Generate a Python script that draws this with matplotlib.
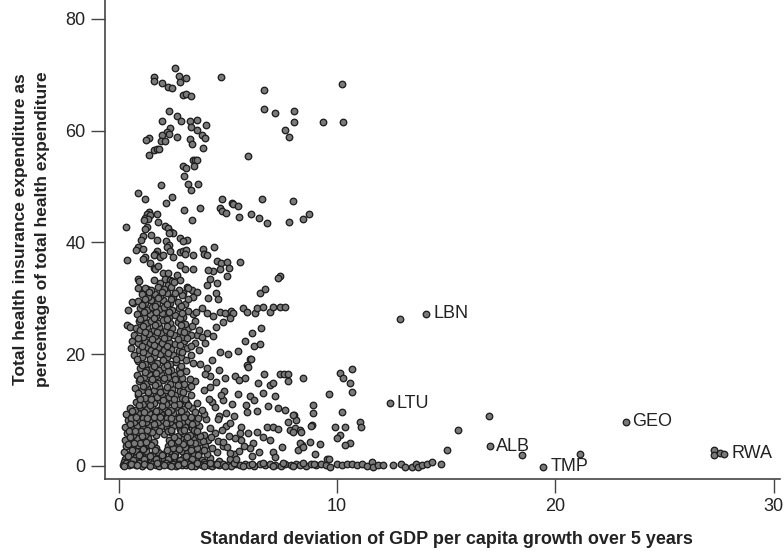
import numpy as np
import matplotlib
matplotlib.use("Agg")
import matplotlib.pyplot as plt

plt.rcParams['font.family'] = ['Liberation Sans', 'DejaVu Sans']

# points with high insurance share (y > 44)
upper_pts = [(2.59, 71.2), (1.6, 69.6), (1.6, 68.9), (2.0, 68.5), (2.25, 67.9), (2.45, 67.7),
             (2.76, 69.8), (2.82, 68.8), (3.08, 69.4), (4.7, 69.7), (2.97, 66.4), (3.09, 66.5),
             (3.33, 66.3), (6.68, 67.3), (10.22, 68.4), (2.3, 63.6), (2.68, 62.7), (1.99, 61.8),
             (2.86, 61.7), (3.26, 61.7), (3.6, 62.0), (4.0, 61.1), (3.31, 60.6), (3.6, 60.1),
             (2.36, 60.4), (2.2, 59.8), (2.33, 59.4), (1.99, 59.2), (2.67, 58.9), (3.26, 58.6),
             (3.81, 59.2), (3.96, 58.7), (1.37, 58.7), (1.26, 58.3), (1.93, 58.1), (2.13, 58.1),
             (3.38, 57.6), (3.88, 56.9), (1.6, 56.5), (1.75, 56.7), (1.84, 56.7), (1.38, 55.6),
             (6.68, 63.9), (7.17, 63.2), (8.03, 63.5), (8.03, 61.6), (9.38, 61.6), (10.27, 61.6),
             (7.6, 60.2), (7.8, 58.8), (5.93, 55.4), (3.42, 54.8), (3.5, 54.8), (3.57, 54.8),
             (2.97, 53.7), (3.09, 53.3), (3.44, 53.6), (2.99, 51.8), (1.93, 50.3), (3.18, 50.5),
             (3.32, 49.4), (3.66, 50.4), (0.91, 48.9), (1.23, 47.8), (2.45, 48.2), (4.75, 47.8),
             (6.59, 47.8), (7.98, 47.4), (2.19, 47.1), (3.01, 45.8), (3.73, 46.1), (5.19, 47.0),
             (5.26, 46.9), (5.47, 46.5), (4.65, 46.1), (4.73, 45.7), (4.92, 45.3), (6.05, 45.0),
             (6.45, 44.4), (5.52, 44.5), (8.44, 44.2), (8.73, 45.0), (1.38, 45.4), (1.29, 45.0),
             (1.44, 44.9), (1.75, 45.0)]

# middle band (about 19 to 44)
mid_pts = [(1.23, 44.3), (1.34, 44.2), (1.15, 44.1), (1.82, 43.6), (3.38, 44.0), (6.79, 43.5),
           (7.82, 43.7), (0.34, 42.7), (2.14, 43.0), (2.28, 42.5), (2.39, 41.9), (2.48, 41.6),
           (2.33, 41.6), (1.29, 42.8), (1.2, 42.4), (1.47, 41.4), (1.14, 41.1), (1.04, 40.4),
           (1.75, 40.4), (2.8, 40.7), (3.15, 40.4), (2.97, 40.2), (2.18, 40.2), (2.33, 39.5),
           (2.2, 39.1), (2.36, 38.5), (0.88, 39.2), (0.8, 38.6), (1.14, 38.9), (1.75, 38.5),
           (1.67, 38.0), (1.63, 37.8), (1.9, 37.3), (2.05, 37.7), (1.23, 37.3), (1.14, 37.0),
           (2.51, 37.3), (2.79, 38.2), (2.97, 38.5), (3.09, 38.6), (3.06, 37.9), (3.43, 37.7),
           (3.86, 38.9), (3.93, 38.0), (4.07, 37.7), (4.36, 39.2), (0.39, 36.9), (1.44, 36.4),
           (1.6, 35.5), (1.67, 35.2), (1.82, 35.8), (2.82, 36.0), (3.05, 35.2), (3.4, 35.2),
           (4.53, 36.7), (4.7, 36.4), (4.96, 36.5), (5.08, 35.5), (4.65, 35.2), (4.34, 34.9),
           (4.11, 35.1), (5.58, 36.5), (4.96, 33.9), (4.19, 33.5), (4.5, 32.8), (4.04, 32.4),
           (7.4, 33.9), (7.32, 33.7), (0.91, 33.4), (0.94, 33.0), (2.05, 34.5), (2.28, 34.6),
           (2.67, 34.2), (2.13, 33.4), (2.36, 33.3), (2.82, 33.3), (1.91, 32.7), (2.28, 32.4),
           (2.44, 33.0), (6.48, 30.9), (6.71, 31.7), (3.12, 32.1), (3.35, 31.5), (3.58, 31.2),
           (2.97, 30.9), (4.47, 31.0), (4.57, 29.8), (4.11, 30.0), (0.91, 31.8), (1.29, 31.6),
           (1.14, 30.9), (0.45, 27.9), (0.68, 29.1), (0.6, 29.4), (4.65, 27.6), (4.88, 27.3),
           (5.15, 27.8), (5.26, 27.3), (5.72, 28.2), (5.87, 27.6), (6.25, 27.3), (6.33, 28.2),
           (6.63, 28.5), (6.94, 27.6), (7.09, 28.5), (7.4, 28.5), (7.6, 28.5), (4.04, 27.4),
           (4.34, 26.8), (4.8, 25.8), (5.11, 26.4), (0.38, 25.2), (0.53, 24.9), (6.53, 24.7),
           (6.1, 23.7), (5.8, 22.3), (6.21, 21.5), (6.48, 21.8), (5.49, 20.6), (4.04, 23.7),
           (4.47, 24.8), (4.34, 23.2), (3.58, 23.4), (3.81, 23.1), (3.96, 21.9), (4.65, 20.4),
           (5.0, 20.1), (6.02, 19.2)]

# dense core near the y axis
core_pts = [(0.3, 1.3), (0.55, 0.9), (0.8, 1.5), (1.05, 1.1), (1.3, 1.6), (1.6, 0.9), (1.85, 1.4),
            (2.1, 1.0), (2.4, 1.5), (2.65, 1.1), (2.95, 1.4), (3.2, 0.9), (3.5, 1.3), (3.8, 1.0),
            (4.2, 1.4), (4.6, 0.9), (5.1, 1.2),
            (0.25, 2.5), (0.5, 2.1), (0.78, 2.6), (1.0, 2.2), (1.25, 2.7), (1.55, 2.0), (1.8, 2.5),
            (2.05, 2.2), (2.35, 2.7), (2.6, 2.1), (2.9, 2.6), (3.15, 2.3), (3.45, 2.0), (3.75, 2.6),
            (4.05, 2.2), (4.5, 2.5), (5.3, 2.1),
            (0.35, 3.6), (0.6, 3.2), (0.9, 3.7), (1.15, 3.3), (1.4, 3.8), (1.7, 3.2), (2.25, 3.5),
            (2.5, 3.1), (2.8, 3.7), (3.05, 3.3), (3.35, 3.8), (3.6, 3.2), (3.95, 3.5), (4.3, 3.1),
            (4.8, 3.6),
            (0.3, 4.7), (0.55, 4.3), (0.85, 4.9), (1.1, 4.5), (1.35, 5.0), (1.6, 4.3), (2.3, 4.6),
            (2.55, 4.2), (2.85, 4.9), (3.1, 4.4), (3.4, 4.8), (3.7, 4.3), (4.1, 4.7), (4.55, 4.4),
            (5.6, 4.6),
            (0.4, 5.9), (0.65, 5.5), (0.9, 6.0), (1.2, 5.6), (1.45, 6.1), (1.7, 5.5), (2.1, 5.7),
            (2.4, 6.1), (2.7, 5.4), (2.95, 5.9), (3.25, 5.5), (3.55, 6.0), (3.9, 5.6), (4.4, 5.9),
            (0.3, 7.0), (0.6, 6.6), (0.85, 7.2), (1.1, 6.8), (1.4, 7.3), (1.65, 6.6), (1.95, 7.1),
            (2.2, 6.7), (2.5, 7.2), (2.8, 6.6), (3.05, 7.0), (3.35, 6.7), (3.7, 7.2), (4.2, 6.8),
            (4.9, 7.1),
            (0.45, 8.2), (0.7, 7.8), (0.95, 8.3), (1.25, 7.9), (1.5, 8.4), (1.8, 7.8), (2.05, 8.2),
            (2.35, 7.9), (2.6, 8.4), (2.9, 7.8), (3.2, 8.1), (3.55, 7.8), (4.0, 8.3),
            (0.35, 9.3), (0.6, 8.9), (0.9, 9.4), (1.15, 9.0), (1.4, 9.5), (1.7, 8.9), (1.95, 9.3),
            (2.25, 9.0), (2.5, 9.5), (2.8, 8.9), (3.1, 9.2), (3.45, 8.9), (3.9, 9.3), (4.6, 9.0),
            (0.5, 10.4), (0.75, 10.0), (1.0, 10.5), (1.3, 10.1), (1.55, 10.6), (1.85, 10.0),
            (2.1, 10.3), (2.4, 10.0), (2.7, 10.5), (3.0, 10.1), (3.35, 10.4), (3.8, 10.0),
            (0.8, 11.5), (1.1, 11.1), (1.35, 11.6), (1.6, 11.2), (1.9, 11.7), (2.15, 11.1),
            (2.45, 11.4), (2.75, 11.0), (3.1, 11.5), (3.6, 11.2), (4.3, 11.4),
            (0.9, 12.6), (1.2, 12.2), (1.45, 12.8), (1.75, 12.3), (2.0, 12.9), (2.3, 12.3),
            (2.6, 12.7), (2.9, 12.2), (3.3, 12.6),
            (0.75, 13.9), (1.05, 13.5), (1.3, 14.0), (1.6, 13.6), (1.85, 14.1), (2.15, 13.5),
            (2.45, 13.8), (2.8, 13.4), (3.2, 13.9), (3.9, 13.6),
            (0.95, 15.1), (1.25, 14.7), (1.5, 15.2), (1.8, 14.8), (2.05, 15.3), (2.35, 14.7),
            (2.7, 15.0), (3.0, 14.6), (3.5, 15.1),
            (0.85, 16.3), (1.15, 15.9), (1.4, 16.4), (1.7, 16.0), (1.95, 16.5), (2.25, 15.9),
            (2.55, 16.2), (2.9, 15.8), (4.2, 16.1),
            (1.0, 17.5), (1.3, 17.1), (1.55, 17.6), (1.85, 17.2), (2.1, 17.7), (2.4, 17.1),
            (2.75, 17.4), (3.1, 17.0),
            (0.9, 18.7), (1.2, 18.3), (1.5, 18.8), (1.75, 18.4), (2.05, 18.9), (2.35, 18.3),
            (2.65, 18.6), (3.4, 18.4),
            (0.7, 19.9), (1.05, 19.5), (1.35, 20.0), (1.6, 19.6), (1.9, 20.1), (2.2, 19.5),
            (2.5, 19.8), (2.85, 19.4), (3.3, 19.9),
            (0.55, 21.1), (0.95, 20.7), (1.25, 21.2), (1.5, 20.8), (1.8, 21.3), (2.1, 20.7),
            (2.4, 21.0), (2.75, 20.6), (3.15, 21.1), (3.7, 20.8),
            (0.6, 22.3), (0.9, 21.9), (1.2, 22.4), (1.45, 22.0), (1.75, 22.5), (2.0, 21.9),
            (2.3, 22.2), (2.6, 21.8), (3.0, 22.3), (3.5, 22.0),
            (0.7, 23.5), (1.1, 23.1), (1.4, 23.6), (1.65, 23.2), (1.95, 23.7), (2.25, 23.1),
            (2.55, 23.4), (2.9, 23.0), (3.3, 23.5),
            (0.8, 24.7), (1.0, 24.3), (1.3, 24.8), (1.6, 24.4), (1.85, 24.9), (2.15, 24.3),
            (2.45, 24.6), (2.8, 24.2), (3.2, 24.7), (3.7, 24.4),
            (0.95, 25.9), (1.25, 25.5), (1.5, 26.0), (1.8, 25.6), (2.05, 26.1), (2.35, 25.5),
            (2.7, 25.8), (3.05, 25.4), (3.5, 25.9),
            (0.85, 27.1), (1.15, 26.7), (1.45, 27.2), (1.7, 26.8), (2.0, 27.3), (2.3, 26.7),
            (2.6, 27.0), (2.95, 26.6), (3.4, 27.1),
            (1.0, 28.3), (1.3, 27.9), (1.55, 28.4), (1.85, 28.0), (2.1, 28.5), (2.45, 27.9),
            (2.75, 28.2), (3.2, 27.8), (3.8, 28.3),
            (0.9, 29.5), (1.2, 29.1), (1.5, 29.6), (1.75, 29.2), (2.05, 29.7), (2.35, 29.1),
            (2.7, 29.4), (3.05, 29.0),
            (1.05, 30.7), (1.35, 30.3), (1.65, 30.8), (1.9, 30.4), (2.2, 30.9), (2.5, 30.3),
            (2.9, 30.6), (3.4, 30.2),
            (1.2, 31.9), (1.5, 31.5), (1.8, 32.0), (2.1, 31.6), (2.4, 32.1), (2.75, 31.5),
            (3.2, 31.8),
            (0.42, 1.8), (0.92, 1.9), (1.42, 1.7), (1.98, 1.9), (2.52, 1.8), (3.08, 1.7), (3.62, 1.9),
            (0.45, 3.9), (1.0, 4.0), (1.5, 3.8), (2.4, 4.0), (2.95, 3.9), (3.5, 4.1),
            (0.47, 6.2), (1.02, 6.3), (1.55, 6.1), (2.25, 6.3), (2.85, 6.2), (3.45, 6.4),
            (0.55, 8.6), (1.1, 8.5), (1.62, 8.7), (2.2, 8.6), (2.75, 8.5), (3.3, 8.7),
            (0.25, 0.7), (0.7, 0.6), (1.2, 0.8), (1.7, 0.6), (2.2, 0.7), (2.75, 0.8), (3.3, 0.6),
            (3.9, 0.7)]

# second, offset layer that fills the core in
core2_pts = [(0.68, 1.0), (1.18, 1.3), (1.72, 1.2), (2.28, 1.3), (2.82, 1.0), (3.35, 1.2),
             (0.62, 2.8), (1.12, 3.0), (1.66, 2.8), (2.2, 2.9), (2.75, 3.0), (3.3, 2.8), (3.9, 2.9),
             (0.7, 4.1), (1.25, 4.2), (2.7, 4.4), (3.25, 4.2), (3.85, 4.4),
             (0.52, 5.1), (1.05, 5.3), (2.55, 5.2), (3.15, 5.1), (3.75, 5.3), (4.25, 5.2),
             (0.75, 6.3), (1.3, 6.5), (1.85, 6.2), (2.38, 6.4), (2.98, 6.5), (3.6, 6.3),
             (0.5, 7.5), (1.05, 7.6), (1.62, 7.4), (2.18, 7.6), (2.75, 7.4), (3.38, 7.5),
             (0.8, 8.8), (1.32, 8.6), (1.88, 8.8), (2.42, 8.6), (2.98, 8.8), (3.65, 8.6),
             (0.62, 9.8), (1.15, 9.7), (1.7, 9.9), (2.25, 9.7), (2.85, 9.9), (3.5, 9.7),
             (0.95, 10.8), (1.45, 10.9), (2.0, 10.7), (2.55, 10.9), (3.2, 10.8),
             (1.0, 11.9), (1.5, 12.0), (2.05, 11.8), (2.55, 12.0), (3.05, 11.9),
             (0.9, 13.1), (1.35, 13.3), (1.9, 13.2), (2.4, 13.0), (2.95, 13.2),
             (1.1, 14.3), (1.65, 14.4), (2.2, 14.2), (2.7, 14.4), (3.3, 14.3),
             (1.0, 15.6), (1.55, 15.5), (2.1, 15.7), (2.6, 15.5), (3.25, 15.6),
             (1.2, 16.8), (1.7, 16.7), (2.25, 16.9), (2.8, 16.7),
             (1.05, 18.0), (1.6, 17.9), (2.2, 18.1), (2.85, 17.9),
             (0.85, 19.1), (1.45, 19.2), (2.05, 19.0), (2.65, 19.2), (3.1, 19.0),
             (1.1, 20.3), (1.65, 20.4), (2.25, 20.2), (2.9, 20.4),
             (1.05, 21.5), (1.6, 21.6), (2.2, 21.4), (2.8, 21.6), (3.3, 21.5),
             (0.9, 22.8), (1.55, 22.7), (2.1, 22.9), (2.7, 22.7), (3.15, 22.8),
             (1.2, 23.9), (1.75, 24.0), (2.35, 23.8), (3.0, 24.0),
             (1.1, 25.1), (1.65, 25.2), (2.2, 25.0), (2.85, 25.2), (3.35, 25.1),
             (1.0, 26.3), (1.6, 26.4), (2.2, 26.2), (2.8, 26.4),
             (1.15, 27.6), (1.7, 27.5), (2.3, 27.6), (2.9, 27.4), (3.55, 27.6),
             (1.05, 28.8), (1.65, 28.7), (2.2, 28.9), (2.85, 28.7),
             (1.2, 29.9), (1.8, 30.0), (2.4, 29.8), (3.2, 29.9),
             (1.4, 31.1), (2.0, 31.2), (2.6, 31.0), (1.6, 33.2), (2.55, 32.9)]

# points lying near zero
floor_pts = [(0.2, 0.2), (0.33, 0.5), (0.47, 0.1), (0.62, 0.4), (0.78, 0.2), (0.93, 0.5),
             (1.08, 0.0), (1.22, 0.3), (1.38, 0.1), (1.53, 0.4), (1.71, 0.2), (1.86, 0.0),
             (2.02, 0.3), (2.17, 0.5), (2.31, 0.1), (2.47, 0.3), (2.63, 0.0), (2.77, 0.4),
             (2.92, 0.2), (3.07, 0.1), (3.24, 0.4), (3.38, 0.2), (3.52, 0.0), (3.68, 0.3),
             (3.83, 0.1), (3.97, 0.4), (4.12, 0.2), (4.28, 0.0), (4.43, 0.3), (4.62, 0.1),
             (4.79, 0.4), (4.98, 0.2), (5.17, 0.0), (5.36, 0.3), (5.58, 0.1), (5.77, 0.4),
             (5.96, 0.2), (6.22, 0.0), (6.48, 0.3), (6.71, 0.1), (6.93, 0.4), (7.18, 0.2),
             (7.42, 0.0), (7.63, 0.3), (7.88, 0.1), (8.12, 0.4), (8.33, 0.2), (8.58, 0.0),
             (8.82, 0.3), (9.04, 0.1), (9.28, 0.4), (9.52, 0.2), (9.69, -0.2), (9.99, 0.4),
             (10.22, 0.1), (10.45, 0.4), (10.68, 0.3), (10.91, 0.1), (11.14, 0.3), (11.37, 0.0),
             (11.63, 0.7), (11.67, -0.2), (11.9, 0.1), (12.1, 0.1), (12.59, 0.1), (12.93, 0.3),
             (13.12, -0.2), (13.43, -0.2), (13.63, 0.3), (13.73, -0.2), (13.89, 0.1), (14.12, 0.4),
             (14.35, 0.7), (14.78, 0.3),
             (0.27, 0.0), (0.55, 0.3), (0.85, 0.1), (1.15, 0.4), (1.45, 0.0), (1.78, 0.5),
             (2.09, 0.1), (2.39, 0.0), (2.7, 0.2), (3.0, 0.5), (3.3, 0.0), (3.6, 0.5), (3.9, 0.0),
             (4.2, 0.5), (4.52, 0.3), (4.88, 0.0), (5.27, 0.5), (5.68, 0.0), (6.1, 0.4),
             (6.6, 0.5), (7.05, 0.0), (7.52, 0.5), (8.0, 0.0), (8.45, 0.5), (8.95, 0.4)]

# scattered points below 20 to the right of the core
sparse_pts = [(3.73, 18.2), (4.04, 17.6), (5.87, 18.0), (5.95, 17.7), (6.05, 19.1), (4.88, 15.8),
              (5.34, 16.0), (5.53, 15.4), (5.81, 15.8), (6.68, 16.4), (6.4, 14.9), (6.94, 14.5),
              (7.09, 14.9), (7.4, 16.4), (7.58, 16.4), (7.78, 16.4), (7.78, 15.2), (8.44, 15.8),
              (9.63, 12.8), (10.15, 16.7), (10.27, 15.7), (10.6, 14.9), (10.71, 17.3), (10.71, 13.3),
              (5.49, 12.8), (6.02, 12.5), (6.21, 11.8), (6.63, 13.0), (4.8, 11.8), (4.85, 13.4),
              (5.84, 10.9), (5.9, 9.7), (6.33, 9.8), (6.86, 10.7), (7.32, 10.4), (7.63, 10.0),
              (7.17, 12.5), (8.05, 9.1), (8.13, 8.2), (7.75, 7.9), (8.9, 10.9), (8.92, 9.4),
              (8.85, 7.3), (10.22, 9.7), (9.92, 7.0), (10.38, 7.0), (10.15, 5.5), (10.02, 4.9),
              (10.6, 4.0), (10.38, 3.7), (6.79, 7.0), (7.09, 6.9), (7.32, 6.6), (6.33, 6.1),
              (5.95, 5.9), (6.63, 5.2), (6.94, 4.6), (7.86, 6.4), (8.09, 6.7), (8.31, 6.4),
              (8.39, 3.7), (8.24, 2.8), (8.77, 4.3), (9.23, 3.9), (9.0, 2.2), (9.54, 1.2),
              (9.66, 1.2), (7.48, 3.4), (7.09, 2.5), (7.17, 1.6), (6.15, 4.0), (6.0, 3.1),
              (5.53, 2.7), (4.96, 3.4), (5.34, 4.9), (11.06, 7.8), (11.12, 6.9), (8.0, 9.1),
              (8.0, 6.1), (8.37, 6.1), (8.83, 7.2), (8.31, 4.0), (8.44, 3.4), (4.3, 18.9),
              (4.6, 17.2), (4.45, 15.0), (4.2, 14.1), (4.7, 12.6), (4.4, 10.6), (4.9, 9.5),
              (4.55, 8.4), (5.1, 7.6), (4.75, 6.5), (5.3, 8.9), (5.6, 6.9), (5.2, 11.0),
              (3.95, 16.4), (4.15, 12.0), (5.05, 5.3), (5.55, 5.9), (4.8, 4.2), (5.1, 2.3),
              (5.75, 3.6), (6.45, 2.4), (6.1, 1.7), (5.4, 1.3)]

# far outliers without labels
outlier_pts = [(12.9, 26.2), (15.05, 2.8), (15.55, 6.4), (16.96, 9.0), (18.48, 1.9),
               (21.14, 2.2), (27.29, 2.8), (27.29, 1.9), (27.55, 2.3)]

# labelled countries
codes = ['LBN', 'LTU', 'GEO', 'ALB', 'TMP', 'RWA']
code_x = [14.1, 12.42, 23.22, 16.99, 19.46, 27.75]
code_y = [27.2, 11.2, 7.9, 3.5, -0.2, 2.2]

all_pts = np.array(upper_pts + mid_pts + core_pts + core2_pts + floor_pts + sparse_pts + outlier_pts)
xs = np.concatenate([all_pts[:, 0], code_x])
ys = np.concatenate([all_pts[:, 1], code_y])

fig = plt.figure(figsize=(7.84, 5.56), dpi=100)
ax = fig.add_axes([0.134, 0.1385, 0.861, 0.8615])

ax.scatter(xs, ys, s=22, facecolor='#7a7a7a', edgecolor='#1e1e1e', linewidths=0.95, zorder=3)

for c, x, y in zip(codes, code_x, code_y):
    ax.annotate(c, (x, y), xytext=(5, 0), textcoords='offset points',
                ha='left', va='center', fontsize=13, color='#222222')

ax.set_xlim(-0.62, 30.3)
ax.set_ylim(-2.36, 83.4)
ax.set_xticks([0, 10, 20, 30])
ax.set_yticks([0, 20, 40, 60, 80])

for side in ['top', 'right']:
    ax.spines[side].set_visible(False)
for side in ['left', 'bottom']:
    ax.spines[side].set_color('#444444')
    ax.spines[side].set_linewidth(1.2)

ax.tick_params(direction='out', length=10, width=1.0, color='#444444',
               labelsize=13, labelcolor='#222222', pad=4)

fig.text(0.04, 0.588, 'Total health insurance expenditure as\npercentage of total health expenditure',
         rotation=90, ha='center', va='center', fontsize=12.5, fontweight='bold',
         color='#222222', linespacing=1.55)
fig.text(0.569, 0.029, 'Standard deviation of GDP per capita growth over 5 years',
         ha='center', va='center', fontsize=13, fontweight='bold', color='#222222')

fig.savefig('out.png', dpi=100)
